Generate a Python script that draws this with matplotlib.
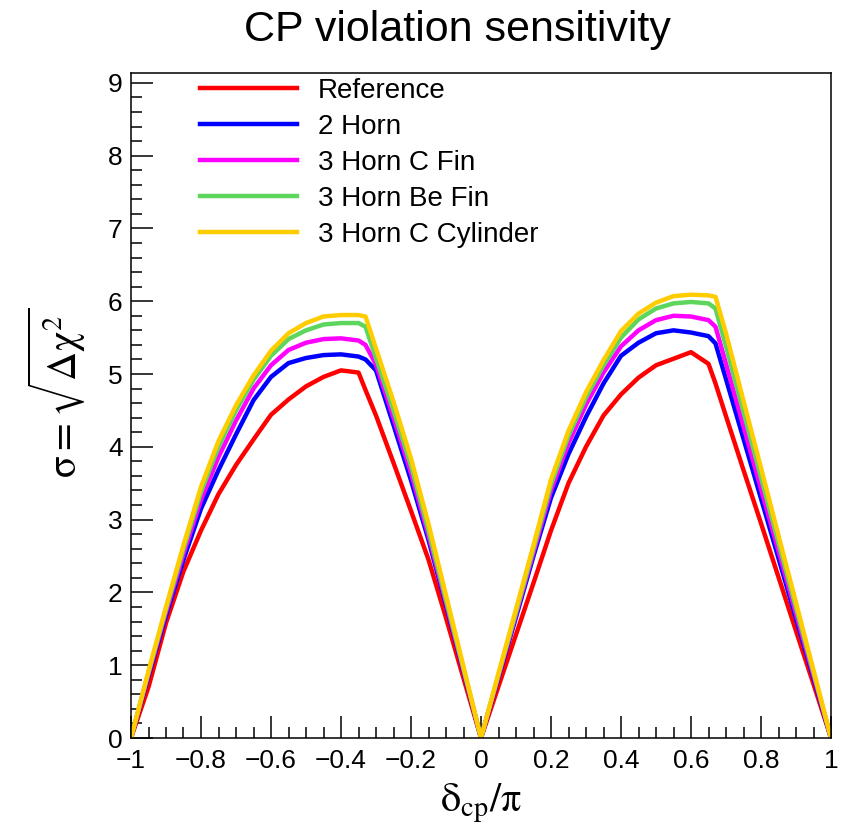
import matplotlib
matplotlib.use("Agg")
import matplotlib.pyplot as plt
from matplotlib.ticker import MultipleLocator, FuncFormatter

plt.rcParams['font.family'] = ['Liberation Sans', 'DejaVu Sans']
plt.rcParams['mathtext.fontset'] = 'stix'

# delta_cp / pi
dcp = [-1, -0.95, -0.9, -0.85, -0.8, -0.75, -0.7, -0.65, -0.6, -0.55, -0.5,
       -0.45, -0.4, -0.35, -0.33, -0.3, -0.25, -0.2, -0.15, -0.1, -0.05, 0,
       0.05, 0.1, 0.15, 0.2, 0.25, 0.3, 0.35, 0.4, 0.45, 0.5, 0.55, 0.6,
       0.65, 0.67, 0.7, 0.75, 0.8, 0.85, 0.9, 0.95, 1]

reference = [0, 0.70, 1.58, 2.29, 2.85, 3.35, 3.75, 4.10, 4.44, 4.65, 4.83,
             4.96, 5.05, 5.02, 4.78, 4.43, 3.78, 3.12, 2.45, 1.65, 0.82, 0,
             0.71, 1.42, 2.13, 2.85, 3.50, 4.00, 4.43, 4.72, 4.95, 5.12, 5.21, 5.30,
             5.14, 4.87, 4.42, 3.68, 2.95, 2.21, 1.47, 0.74, 0]
horn2 = [0, 0.85, 1.68, 2.45, 3.15, 3.68, 4.17, 4.64, 4.96, 5.15, 5.22,
         5.26, 5.27, 5.24, 5.20, 5.05, 4.30, 3.54, 2.72, 1.82, 0.91, 0,
         0.83, 1.66, 2.50, 3.30, 3.90, 4.41, 4.87, 5.25, 5.43, 5.56, 5.60, 5.57,
         5.52, 5.42, 4.93, 4.11, 3.29, 2.47, 1.64, 0.82, 0]
horn3_cfin = [0, 0.88, 1.73, 2.53, 3.27, 3.86, 4.36, 4.80, 5.12, 5.33, 5.43,
              5.48, 5.49, 5.46, 5.40, 5.13, 4.40, 3.64, 2.78, 1.86, 0.93, 0,
              0.85, 1.70, 2.55, 3.40, 4.05, 4.58, 5.02, 5.38, 5.60, 5.74, 5.80, 5.79,
              5.74, 5.65, 5.14, 4.28, 3.42, 2.57, 1.71, 0.86, 0]
horn3_befin = [0, 0.90, 1.77, 2.60, 3.38, 4.00, 4.50, 4.92, 5.25, 5.48, 5.60,
               5.68, 5.70, 5.70, 5.65, 5.22, 4.50, 3.74, 2.85, 1.90, 0.95, 0,
               0.87, 1.73, 2.60, 3.48, 4.15, 4.68, 5.12, 5.50, 5.75, 5.90, 5.97, 5.99,
               5.97, 5.90, 5.38, 4.48, 3.58, 2.68, 1.79, 0.90, 0]
horn3_ccyl = [0, 0.92, 1.80, 2.65, 3.45, 4.08, 4.57, 4.98, 5.32, 5.56, 5.70,
              5.79, 5.81, 5.81, 5.79, 5.35, 4.62, 3.84, 2.94, 1.96, 0.98, 0,
              0.89, 1.77, 2.65, 3.55, 4.22, 4.75, 5.19, 5.59, 5.83, 5.98, 6.07, 6.09,
              6.08, 6.06, 5.56, 4.63, 3.71, 2.78, 1.86, 0.93, 0]

labels = ['Reference', '2 Horn', '3 Horn C Fin', '3 Horn Be Fin', '3 Horn C Cylinder']
colors = ['#ff0000', '#0000ff', '#ff00ff', '#5cd65c', '#ffcc00']
series = [reference, horn2, horn3_cfin, horn3_befin, horn3_ccyl]

W, H = 848, 839
fig = plt.figure(figsize=(W / 100, H / 100), dpi=100)
ax = fig.add_axes([131 / W, 1 - 738 / H, 700 / W, 665 / H])

for ys, col, lab in zip(series, colors, labels):
    ax.plot(dcp, ys, color=col, lw=3.2, label=lab)

ax.set_xlim(-1, 1)
ax.set_ylim(0, 9.135)

ax.xaxis.set_major_locator(MultipleLocator(0.2))
ax.xaxis.set_minor_locator(MultipleLocator(0.05))
ax.yaxis.set_major_locator(MultipleLocator(1))
ax.yaxis.set_minor_locator(MultipleLocator(0.2))

def fmt(v, pos):
    s = '%g' % round(v, 6)
    return s.replace('-', '\u2212')

ax.xaxis.set_major_formatter(FuncFormatter(fmt))
ax.yaxis.set_major_formatter(FuncFormatter(fmt))

ax.tick_params(which='both', direction='in', top=False, right=False, width=1.1,
               labelsize=19)
ax.tick_params(which='major', length=15.5)
ax.tick_params(which='minor', length=8)
ax.tick_params(axis='x', pad=8)
ax.tick_params(axis='y', pad=6)
for sp in ax.spines.values():
    sp.set_linewidth(1.1)

ax.set_xlabel(r'$\mathrm{\delta}_{\mathrm{cp}}/\mathrm{\pi}$', fontsize=29)
ax.xaxis.set_label_coords(0.5, (738 - 803) / 665)
ax.xaxis.label.set_va('center')
ax.set_ylabel(r'$\mathrm{\sigma} = \sqrt{\mathrm{\Delta\chi}^{2}}$', fontsize=29)
ax.yaxis.set_label_coords((57 - 131) / 700, (738 - 393) / 665)
ax.yaxis.label.set_va('center')

fig.text(457 / W, 1 - 30 / H, 'CP violation sensitivity', fontsize=31,
         ha='center', va='center')

ax.legend(loc='upper left', bbox_to_anchor=((200 - 131) / 700, 1 - 5 / 665),
          frameon=False, fontsize=20, handlelength=3.5, handletextpad=0.75,
          labelspacing=0.36, borderpad=0, borderaxespad=0)

fig.savefig('out.png', dpi=100)
